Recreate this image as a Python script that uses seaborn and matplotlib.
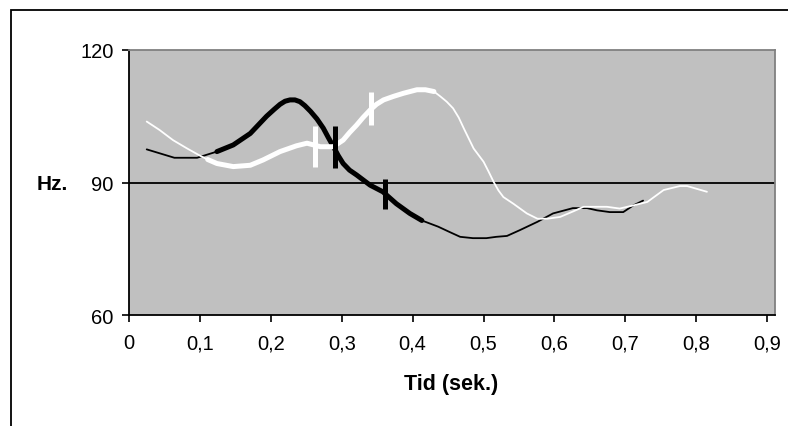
"""Pitch contours (Hz over time) in the old spreadsheet chart style."""

import matplotlib

matplotlib.use("Agg")
import matplotlib.pyplot as plt
import pandas as pd
import seaborn as sns
from matplotlib.patches import Rectangle

# black contour
black_t = [0.025, 0.064, 0.096, 0.124, 0.147, 0.171, 0.194, 0.205, 0.213, 0.220,
           0.227, 0.234, 0.241, 0.248, 0.256, 0.265, 0.274, 0.281, 0.288, 0.295,
           0.302, 0.311, 0.321, 0.340, 0.358, 0.377, 0.396, 0.413, 0.436, 0.452,
           0.467, 0.485, 0.504, 0.518, 0.533, 0.551, 0.576, 0.598, 0.626, 0.646,
           0.660, 0.678, 0.697, 0.711, 0.725]
black_hz = [97.5, 95.6, 95.6, 97.0, 98.5, 101.1, 105.0, 106.6, 107.7, 108.4,
            108.7, 108.7, 108.3, 107.4, 106.1, 104.4, 102.3, 100.2, 98.2, 96.1,
            94.3, 92.8, 91.7, 89.4, 87.9, 85.2, 83.0, 81.4, 80.0, 78.8,
            77.7, 77.4, 77.4, 77.7, 77.9, 79.2, 81.1, 83.0, 84.2, 84.2,
            83.7, 83.3, 83.3, 84.8, 85.9]
black_bold = (0.124, 0.413)
black_marks_t = [0.290, 0.361]
black_marks_lo = [93.3, 83.9]
black_marks_hi = [102.7, 90.9]

# white contour
white_t = [0.025, 0.043, 0.062, 0.082, 0.101, 0.111, 0.124, 0.147, 0.171, 0.189,
           0.213, 0.236, 0.251, 0.270, 0.288, 0.302, 0.311, 0.321, 0.330, 0.340,
           0.349, 0.359, 0.373, 0.387, 0.406, 0.418, 0.430, 0.439, 0.448, 0.457,
           0.465, 0.472, 0.479, 0.486, 0.493, 0.500, 0.507, 0.514, 0.521, 0.528,
           0.542, 0.561, 0.576, 0.590, 0.608, 0.627, 0.641, 0.674, 0.692, 0.711,
           0.731, 0.754, 0.777, 0.787, 0.815]
white_hz = [103.8, 101.9, 99.6, 97.7, 96.0, 95.2, 94.3, 93.6, 93.9, 95.1,
            97.0, 98.3, 98.9, 98.1, 98.1, 99.6, 101.3, 103.0, 104.7, 106.4,
            107.7, 108.7, 109.5, 110.2, 111.0, 111.0, 110.6, 109.5, 108.3, 106.8,
            104.7, 102.3, 100.0, 97.7, 96.2, 94.7, 92.5, 90.2, 88.2, 86.7,
            85.2, 83.0, 81.8, 81.8, 82.2, 83.5, 84.5, 84.5, 84.1, 84.8,
            85.6, 88.3, 89.2, 89.2, 87.9]
white_bold = (0.111, 0.434)
white_marks_t = [0.262, 0.341]
white_marks_lo = [93.4, 103.0]
white_marks_hi = [102.7, 110.5]

x_ticks = [0, 0.1, 0.2, 0.3, 0.4, 0.5, 0.6, 0.7, 0.8, 0.9]
x_tick_labels = ["0", "0,1", "0,2", "0,3", "0,4", "0,5", "0,6", "0,7", "0,8", "0,9"]
y_ticks = [60, 90, 120]

sns.set_style("white")
plt.rcParams["font.family"] = ["Liberation Sans", "DejaVu Sans"]
plt.rcParams["text.color"] = "black"

fig = plt.figure(figsize=(7.88, 4.27), dpi=100)
ax = fig.add_axes([129 / 788, 1 - 316 / 427, (775 - 129) / 788, (316 - 51) / 427])
ax.set_facecolor("#c0c0c0")

# outer chart frame (runs off the right/bottom edge)
fig.patches.append(Rectangle((11 / 788, -0.2), 1.2, 1.2 - 11 / 427,
                             transform=fig.transFigure, fill=False,
                             edgecolor="black", linewidth=1.3, zorder=0))

ax.axhline(90, color="black", linewidth=1.3, zorder=1)

for t, hz, bold, color in [(black_t, black_hz, black_bold, "black"),
                           (white_t, white_hz, white_bold, "white")]:
    df = pd.DataFrame({"t": t, "hz": hz})
    sns.lineplot(data=df, x="t", y="hz", color=color, linewidth=1.3,
                 estimator=None, sort=False, ax=ax, zorder=2)
    seg = df[(df["t"] >= bold[0] - 1e-9) & (df["t"] <= bold[1] + 1e-9)]
    sns.lineplot(data=seg, x="t", y="hz", color=color, linewidth=3.6,
                 estimator=None, sort=False, ax=ax, zorder=3,
                 solid_joinstyle="round")

ax.vlines(white_marks_t, white_marks_lo, white_marks_hi, color="white",
          linewidth=3.6, zorder=4)
ax.vlines(black_marks_t, black_marks_lo, black_marks_hi, color="black",
          linewidth=3.6, zorder=5)

ax.set_xlim(0, 0.911)
ax.set_ylim(60, 120)
ax.set_xticks(x_ticks)
ax.set_xticklabels(x_tick_labels)
ax.set_yticks(y_ticks)
ax.tick_params(axis="both", direction="out", length=5, width=1.2, color="black",
               labelcolor="black", labelsize=14.5, bottom=True, left=True)
ax.tick_params(axis="x", pad=8)
ax.tick_params(axis="y", pad=6)

for side in ["left", "bottom"]:
    ax.spines[side].set_color("black")
    ax.spines[side].set_linewidth(1.3)
for side in ["top", "right"]:
    ax.spines[side].set_visible(True)
    ax.spines[side].set_color("#808080")
    ax.spines[side].set_linewidth(1.3)

ax.set_xlabel("")
ax.set_ylabel("")
fig.text(68 / 788, 1 - 184 / 427, "Hz.", ha="right", va="center",
         fontsize=15, fontweight="bold", color="black")
fig.text(451 / 788, 1 - 385 / 427, "Tid (sek.)", ha="center", va="center",
         fontsize=15.5, fontweight="bold", color="black")

fig.savefig("out.png", dpi=100)
plt.close(fig)
